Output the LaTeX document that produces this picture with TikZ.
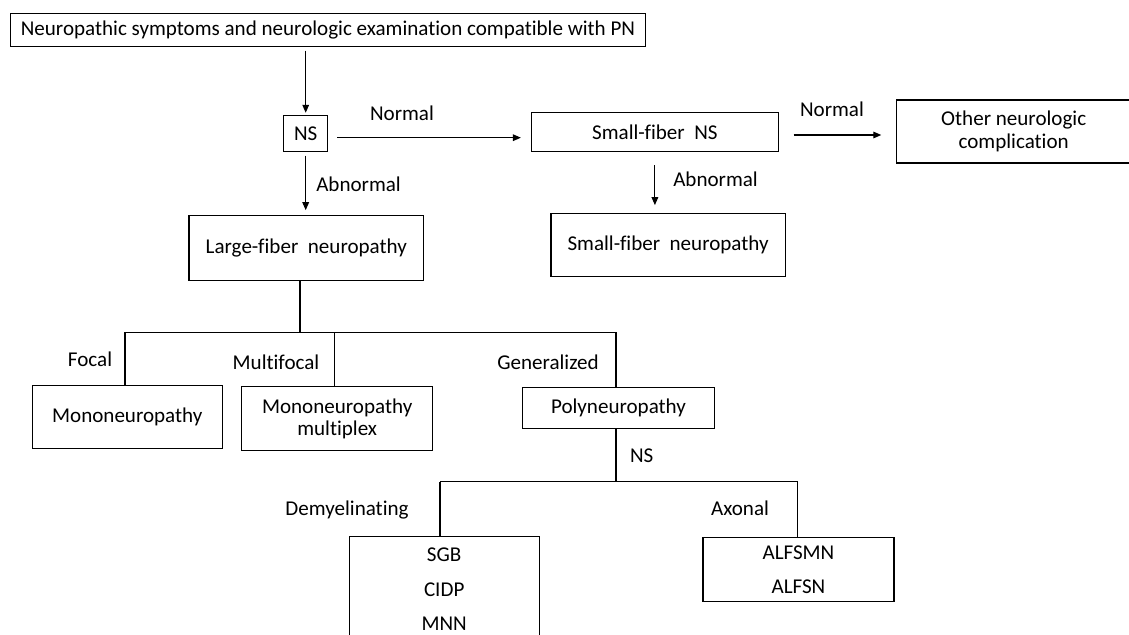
\documentclass[tikz,border=0pt]{standalone}
\usepackage{fontspec}
\setmainfont{Carlito}[Ligatures={NoCommon}]
\usetikzlibrary{arrows.meta}
\begin{document}
\begin{tikzpicture}[x=0.75pt,y=-0.75pt,
  every node/.style={font=\fontsize{15.8}{16.8}\selectfont},
  box/.style={draw, line width=0.8pt, inner sep=0pt, align=center},
  lbl/.style={inner sep=0pt},
  link/.style={line width=0.8pt},
  arr/.style={line width=0.8pt, -{Triangle[length=6pt,width=5pt]}}]
\fill[white] (0,0) rectangle (1129,635);
\useasboundingbox (0,0) rectangle (1129,635);
\clip (0,0) rectangle (1129,635);
% boxes
\node[box, minimum width=634.6*0.75pt, minimum height=32.7*0.75pt] (top) at (328,30.3) {Neuropathic symptoms and neurologic examination compatible with PN};
\node[box, minimum width=43.5*0.75pt, minimum height=36*0.75pt] (ns) at (305.7,133.7) {NS};
\node[box, minimum width=247*0.75pt, minimum height=38.6*0.75pt] (sfns) at (654.9,132) {Small-fiber\ \ NS};
\node[box, minimum width=234.5*0.75pt, minimum height=63*0.75pt] (other) at (1013.7,131.5) {Other neurologic\\complication};
\node[box, minimum width=234.6*0.75pt, minimum height=64.7*0.75pt] (lf) at (306.3,247.7) {Large-fiber\ \ neuropathy};
\node[box, minimum width=234.2*0.75pt, minimum height=63.3*0.75pt] (sfn) at (668.1,245.3) {Small-fiber\ \ neuropathy};
\node[box, minimum width=189.5*0.75pt, minimum height=63*0.75pt] (mono) at (127.3,417.2) {Mononeuropathy};
\node[box, minimum width=190.7*0.75pt, minimum height=64*0.75pt] (mm) at (337.2,418.7) {Mononeuropathy\\multiplex};
\node[box, minimum width=191.6*0.75pt, minimum height=41.3*0.75pt] (poly) at (618.5,408.3) {Polyneuropathy};
\node[box, minimum width=190.3*0.75pt, minimum height=106*0.75pt] (sgb) at (444.2,589.5) {SGB\\[9pt]CIDP\\[9pt]MNN};
\node[box, minimum width=191*0.75pt, minimum height=64.5*0.75pt] (alf) at (798.5,569.7) {ALFSMN\\[9pt]ALFSN};
% labels
\node[lbl] (l1) at (402,113.3) {Normal};
\node[lbl, anchor=west] (l2) at (316,184.3) {Abnormal};
\node[lbl] (l3) at (832,109.3) {Normal};
\node[lbl, anchor=west] (l4) at (673,179.3) {Abnormal};
\node[lbl] (l5) at (90,359.3) {Focal};
\node[lbl] (l6) at (276,362) {Multifocal};
\node[lbl] (l7) at (548,362.3) {Generalized};
\node[lbl] (l8) at (641.7,455.7) {NS};
\node[lbl] (l9) at (347,510) {Demyelinating};
\node[lbl] (l10) at (740,508.3) {Axonal};
% arrows
\draw[arr, shorten <=2.5pt, shorten >=1.8pt] (top.south -| ns) -- (ns.north);
\draw[arr, shorten <=7pt, shorten >=7.5pt] ([yshift=-4*0.75pt]ns.east) -- ([yshift=-4*0.75pt]ns.east -| sfns.west);
\draw[arr, shorten <=2.5pt, shorten >=3.5pt] (ns.south) -- (lf.north -| ns);
\draw[arr, shorten <=11pt, shorten >=11pt] ([yshift=-3*0.75pt]sfns.east) -- ([yshift=-3*0.75pt]sfns.east -| other.west);
\draw[arr, shorten <=10pt, shorten >=6pt] (sfns.south) -- (sfn.north -| sfns);
% tree connectors
\coordinate (j1) at (300,332.3);
\coordinate (bL) at (125,332.3);
\coordinate (bM) at (334.6,332.3);
\coordinate (bR) at (616,332.3);
\draw[link] (lf.south -| j1) -- (j1);
\draw[link] (bL) -- (bR);
\draw[link] (bL) -- (mono.north -| bL);
\draw[link] (bM) -- (mm.north -| bM);
\draw[link] (bR) -- (poly.north -| bR);
\coordinate (cL) at (440,481.5);
\coordinate (cM) at (616,481.5);
\coordinate (cR) at (797.5,481.5);
\draw[link] (poly.south -| cM) -- (cM);
\draw[link] (cL) -- (cR);
\draw[link] (cL) -- (sgb.north -| cL);
\draw[link] (cR) -- (alf.north -| cR);
\end{tikzpicture}
\end{document}
